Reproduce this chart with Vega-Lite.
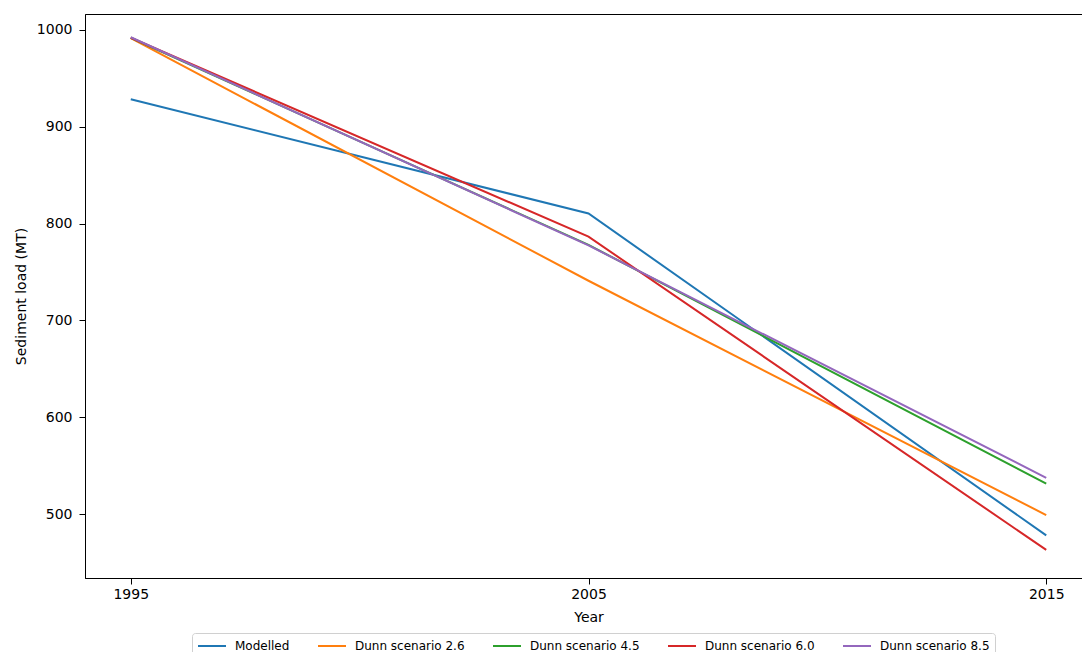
{
  "$schema": "https://vega.github.io/schema/vega-lite/v6.json",
  "autosize": "none",
  "padding": {"left": 85, "top": 14, "right": 0, "bottom": 74},
  "width": 1007,
  "height": 564,
  "background": "white",
  "config": {
    "font": "DejaVu Sans",
    "view": {"stroke": "black", "strokeWidth": 1},
    "axis": {
      "grid": false,
      "domainColor": "black",
      "tickColor": "black",
      "tickSize": 6,
      "labelColor": "black",
      "titleColor": "black",
      "labelFontSize": 14,
      "titleFontSize": 14,
      "titleFontWeight": "normal",
      "labelFont": "DejaVu Sans",
      "titleFont": "DejaVu Sans"
    }
  },
  "data": {
    "values": [
      {"series": "Modelled", "year": 1995, "load": 928.5},
      {"series": "Modelled", "year": 2005, "load": 810.5},
      {"series": "Modelled", "year": 2015, "load": 478},
      {"series": "Dunn scenario 2.6", "year": 1995, "load": 991.5},
      {"series": "Dunn scenario 2.6", "year": 2005, "load": 741},
      {"series": "Dunn scenario 2.6", "year": 2015, "load": 499},
      {"series": "Dunn scenario 4.5", "year": 1995, "load": 992},
      {"series": "Dunn scenario 4.5", "year": 2005, "load": 778},
      {"series": "Dunn scenario 4.5", "year": 2015, "load": 531.5},
      {"series": "Dunn scenario 6.0", "year": 1995, "load": 992},
      {"series": "Dunn scenario 6.0", "year": 2005, "load": 786.5},
      {"series": "Dunn scenario 6.0", "year": 2015, "load": 463},
      {"series": "Dunn scenario 8.5", "year": 1995, "load": 992.5},
      {"series": "Dunn scenario 8.5", "year": 2005, "load": 777.5},
      {"series": "Dunn scenario 8.5", "year": 2015, "load": 537.5}
    ]
  },
  "mark": {"type": "line", "strokeWidth": 2},
  "encoding": {
    "x": {
      "field": "year",
      "type": "quantitative",
      "scale": {"domain": [1994, 2016], "nice": false, "zero": false},
      "axis": {"values": [1995, 2005, 2015], "format": "d", "title": "Year", "labelPadding": 3, "titlePadding": 9}
    },
    "y": {
      "field": "load",
      "type": "quantitative",
      "scale": {"domain": [434, 1016.5], "nice": false, "zero": false},
      "axis": {"values": [500, 600, 700, 800, 900, 1000], "format": "d", "title": "Sediment load (MT)", "labelPadding": 7, "titlePadding": 8}
    },
    "color": {
      "field": "series",
      "type": "nominal",
      "scale": {
        "domain": ["Modelled", "Dunn scenario 2.6", "Dunn scenario 4.5", "Dunn scenario 6.0", "Dunn scenario 8.5"],
        "range": ["#1f77b4", "#ff7f0e", "#2ca02c", "#d62728", "#9467bd"]
      },
      "legend": {
        "title": null,
        "orient": "none",
        "legendX": 107,
        "legendY": 619,
        "direction": "horizontal",
        "symbolType": "M-1,0H3",
        "symbolSize": 196,
        "symbolStrokeWidth": 2,
        "labelFontSize": 12,
        "labelFont": "DejaVu Sans",
        "labelColor": "black",
        "labelOffset": 22,
        "columnPadding": 24,
        "padding": 5,
        "strokeColor": "#d0d0d0",
        "fillColor": "white",
        "cornerRadius": 3
      }
    }
  }
}
